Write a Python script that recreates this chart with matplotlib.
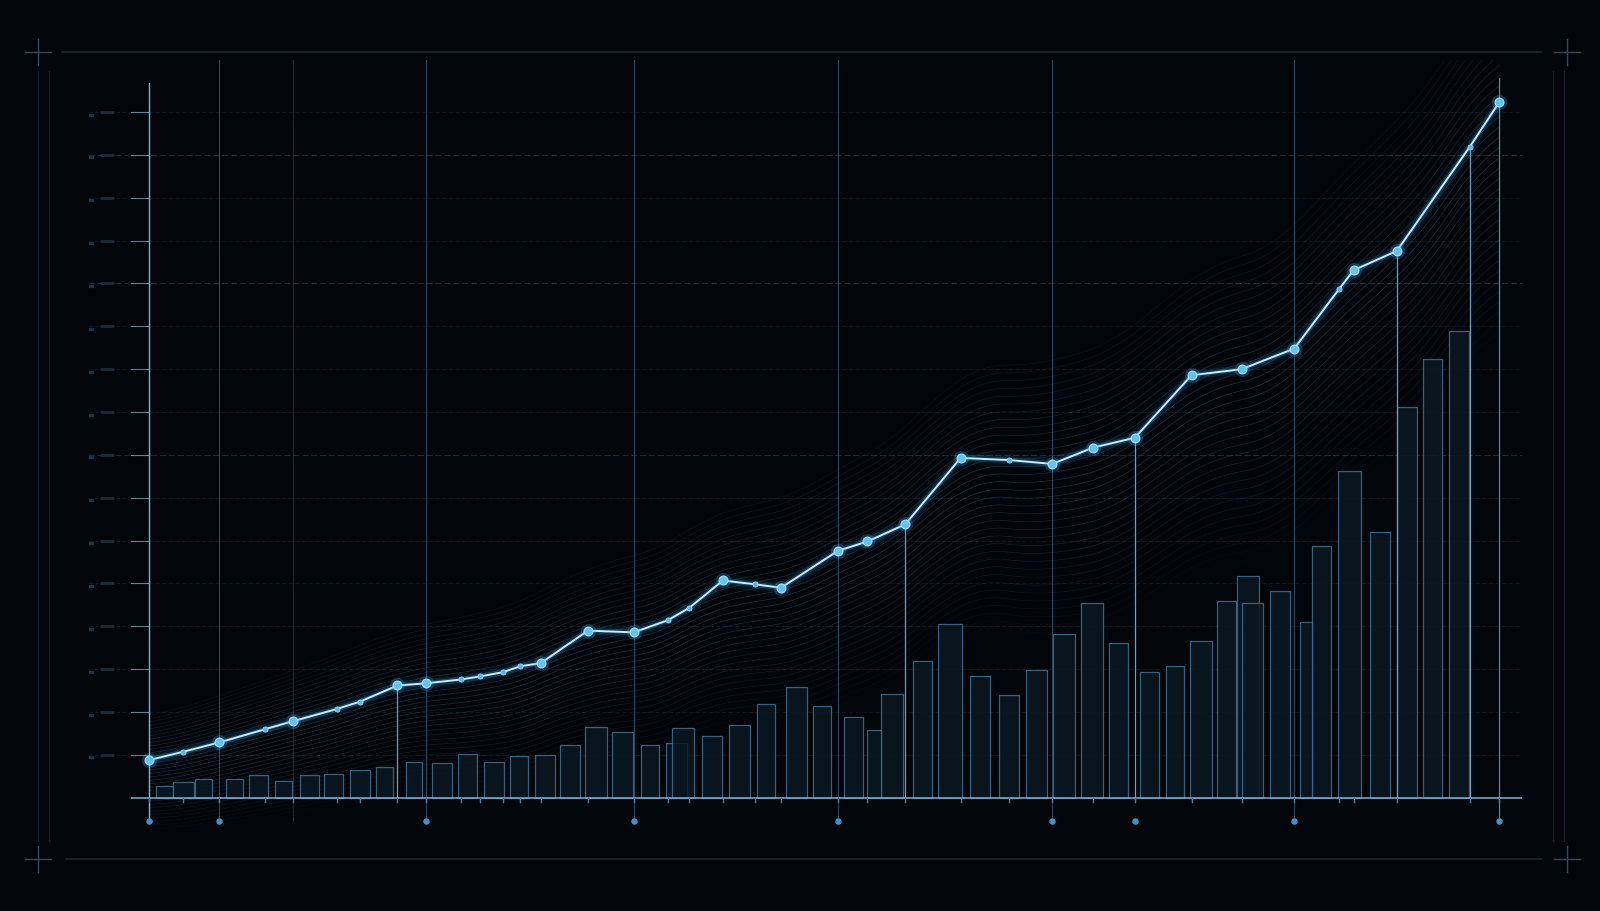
import numpy as np
import matplotlib
matplotlib.use("Agg")
import matplotlib.pyplot as plt
from matplotlib.lines import Line2D

# ---------------- data ----------------
line_x = [0.0, 2.5, 5.2, 8.6, 10.7, 13.9, 15.6, 18.4, 20.5, 23.1, 24.5, 26.2, 27.5, 29.0,
          32.5, 35.9, 38.4, 40.0, 42.5, 44.9, 46.8, 51.0, 53.2, 56.0, 60.1, 63.7, 66.9,
          69.9, 73.0, 77.2, 80.9, 84.8, 88.1, 89.2, 92.4, 97.8, 100.0]
line_y = [8.8, 10.7, 12.9, 16.0, 17.9, 20.7, 22.4, 26.2, 26.7, 27.6, 28.3, 29.3, 30.7, 31.4,
          39.0, 38.6, 41.4, 44.3, 50.7, 49.8, 49.0, 57.6, 59.8, 63.8, 79.3, 78.8, 77.9,
          81.7, 84.0, 98.6, 100.0, 104.8, 118.6, 123.1, 127.6, 151.9, 162.4]
line_major = [1, 0, 1, 0, 1, 0, 0, 1, 1, 0, 0, 0, 0, 1,
              1, 1, 0, 0, 1, 0, 1, 1, 1, 1, 1, 0, 1,
              1, 1, 1, 1, 1, 0, 1, 1, 0, 1]

bar_x = [1.17, 2.57, 4.04, 6.31, 8.12, 9.97, 11.90, 13.67, 15.63, 17.45, 19.64, 21.71, 23.60,
         25.53, 27.42, 29.34, 31.16, 33.08, 35.05, 37.08, 39.05, 39.54, 41.69, 43.73, 45.69,
         47.96, 49.85, 52.15, 53.74, 55.02, 57.29, 59.33, 61.52, 63.67, 65.71, 67.75, 69.83,
         71.79, 74.09, 75.98, 77.91, 79.80, 81.38, 81.72, 83.76, 85.69, 86.82, 88.90, 91.16,
         93.16, 95.05, 96.98]
bar_h = [2.86, 3.57, 4.29, 4.29, 5.24, 3.81, 5.24, 5.48, 6.43, 7.14, 8.33, 8.10, 10.24,
         8.33, 9.76, 10.0, 12.38, 16.43, 15.24, 12.38, 12.86, 16.19, 14.52, 16.90, 21.90,
         25.95, 21.43, 18.81, 15.71, 24.29, 31.90, 40.48, 28.33, 24.05, 29.76, 38.33, 45.48,
         36.19, 29.29, 30.71, 36.67, 45.95, 51.67, 45.48, 48.33, 40.95, 58.81, 76.19, 61.90,
         91.19, 102.38, 108.81]
bar_w = [1.28, 1.51, 1.28, 1.28, 1.44, 1.21, 1.44, 1.36, 1.51, 1.21, 1.21, 1.44, 1.44,
         1.51, 1.36, 1.44, 1.44, 1.66, 1.51, 1.36, 1.51, 1.59, 1.51, 1.51, 1.36,
         1.51, 1.36, 1.44, 1.13, 1.59, 1.44, 1.74, 1.44, 1.51, 1.51, 1.66, 1.59,
         1.44, 1.36, 1.36, 1.59, 1.44, 1.59, 1.51, 1.51, 0.98, 1.44, 1.66, 1.51,
         1.44, 1.44, 1.51]

grid_levels = [10, 20, 30, 40, 50, 60, 70, 80, 90, 100, 110, 120, 130, 140, 150, 160]
full_vlines = [0.0, 5.2, 10.7, 20.5, 35.9, 51.0, 66.9, 84.8, 100.0]
drop_idx = [7, 23, 28, 34, 35]
dot_x = [0.0, 5.2, 20.5, 35.9, 51.0, 66.9, 73.0, 84.8, 100.0]

BG = "#02050a"

# ---------------- figure ----------------
fig = plt.figure(figsize=(16, 9.12), dpi=100, facecolor=BG)
W, H = 1568.0, 894.0
ax = fig.add_axes([128 / W, 1 - 812 / H, (1492 - 128) / W, (812 - 60) / H])
ax.set_facecolor(BG)
ax.set_xlim(-1.36, 101.7)
ax.set_ylim(-6.9, 172.1)
for s in ax.spines.values():
    s.set_visible(False)
ax.set_xticks([])
ax.set_yticks([])

# horizontal grid
for g in grid_levels:
    bright = g in (80, 120, 150)
    ax.plot([-4.5, 101.7], [g, g], color="#1b2731" if bright else "#0f171f",
            lw=0.8 if bright else 0.6, ls=(0, (6, 2)), clip_on=False, zorder=1)
    # left tick marks and faint label placeholders
    ax.plot([-1.36, 0], [g, g], color="#5f8196", lw=0.8, clip_on=False, zorder=3)
    ax.plot([-3.6, -2.6], [g, g], color="#1b2c3a", lw=2.0, clip_on=False, zorder=3,
            solid_capstyle="butt")
    ax.plot([-4.4, -4.2], [g - 0.6, g - 0.6], color="#1d3446", lw=2.3, clip_on=False,
            zorder=3)

# glow band made of offset copies of the main line
xs = np.linspace(0, 100, 600)
ys = np.interp(xs, line_x, line_y)
k = 20
pad = np.pad(ys, (k, k), mode="edge")
ys_s = np.convolve(pad, np.ones(2 * k + 1) / (2 * k + 1), mode="same")[k:-k]
scale = 0.7 + xs / 100 * 1.4
for off in np.linspace(-26, 14, 36):
    a = 0.34 * (1 - abs(off - (-3)) / 25)
    if a <= 0.02:
        continue
    ax.plot(xs, ys_s + off * scale, color="#3f7aa3", lw=0.5, alpha=a, zorder=2)

# bars
for xb, hb, wb in zip(bar_x, bar_h, bar_w):
    ax.bar(xb, hb, width=wb, bottom=0, color="#0a1722", edgecolor="#44708e",
           linewidth=0.9, alpha=0.85, zorder=3)

# full-height vertical lines
for vx in full_vlines:
    if vx == 0.0:
        ax.plot([vx, vx], [-5.5, 166.7], color="#7fb5d6", lw=1.0, zorder=4)
    elif vx == 100.0:
        ax.plot([vx, vx], [-5.5, 168.0], color="#5a87a6", lw=0.9, zorder=4)
    else:
        ax.plot([vx, vx], [-5.5, 172.1], color="#35536a",
                lw=0.8, alpha=0.5 if vx == 10.7 else 0.85, zorder=4)

# drop lines from points to baseline
for i in drop_idx:
    ax.plot([line_x[i], line_x[i]], [0, line_y[i]], color="#6e9fbf", lw=0.9, zorder=4)

# baseline
ax.plot([-1.36, 101.7], [0, 0], color="#7fb2cf", lw=1.1, zorder=5)
# small ticks at baseline
for lx in line_x:
    ax.plot([lx, lx], [0, -0.9], color="#4f7f9f", lw=1.0, zorder=5)
# dots under the axis
ax.scatter(dot_x, [-5.5] * len(dot_x), s=13, color="#3f93c6", zorder=6)

# main line with glow
for lw_, a_ in [(10, 0.05), (6, 0.1), (3.5, 0.2)]:
    ax.plot(line_x, line_y, color="#3aa7e6", lw=lw_, alpha=a_, zorder=6,
            solid_capstyle="round")
ax.plot(line_x, line_y, color="#c8ecfb", lw=1.4, zorder=7)

mx_big = [x for x, m in zip(line_x, line_major) if m]
my_big = [y for y, m in zip(line_y, line_major) if m]
mx_sm = [x for x, m in zip(line_x, line_major) if not m]
my_sm = [y for y, m in zip(line_y, line_major) if not m]
ax.scatter(mx_big, my_big, s=120, color="#3aa7e6", alpha=0.25, zorder=7, linewidths=0)
ax.scatter(mx_big, my_big, s=40, color="#62c3ee", edgecolors="#a9e2fa",
           linewidths=0.8, zorder=8)
ax.scatter(mx_sm, my_sm, s=14, color="#5ab8e6", edgecolors="#a5dcf5",
           linewidths=0.5, zorder=8)

# ---------------- frame decorations (figure coords) ----------------
FW, FH = 1600.0, 912.0


def fl(x0, y0, x1, y1, c="#1e2a35", lw=1.0, a=1.0):
    fig.add_artist(Line2D([x0 / FW, x1 / FW], [1 - y0 / FH, 1 - y1 / FH],
                          color=c, lw=lw, alpha=a, transform=fig.transFigure))


fl(62, 53, 1541, 53, "#1c262f", 1.2)
fl(66, 860, 1541, 860, "#1c262f", 1.2)
fl(38, 72, 38, 842, "#161f27", 1.0)
fl(49, 72, 49, 842, "#161f27", 1.0)
fl(1553, 72, 1553, 842, "#161f27", 1.0)
fl(1564, 72, 1564, 842, "#161f27", 1.0)
for cx, cy in [(38, 53), (1567, 53), (38, 860), (1567, 860)]:
    fl(cx - 13, cy, cx + 13, cy, "#34495a", 1.0)
    fl(cx, cy - 13, cx, cy + 13, "#34495a", 1.0)

fig.savefig("out.png", dpi=100, facecolor=BG)
